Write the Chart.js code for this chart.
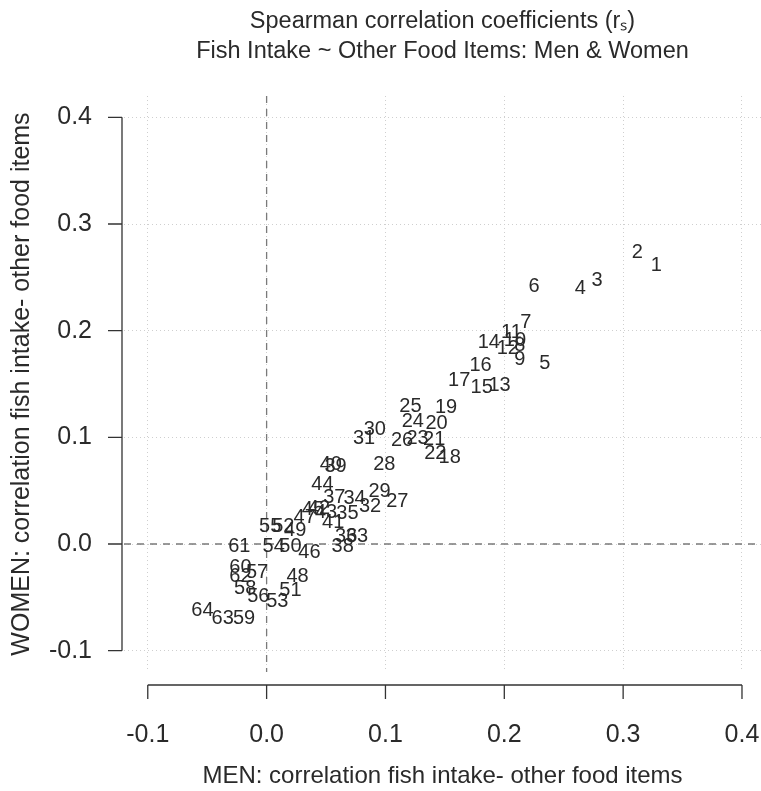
<!DOCTYPE html>
<html>
<head>
<meta charset="utf-8">
<title>Spearman correlation coefficients</title>
<script src="https://cdn.jsdelivr.net/npm/chart.js@4.4.1/dist/chart.umd.min.js"></script>
<style>
  body { margin: 0; background: #fff; }
</style>
</head>
<body>
<canvas id="corrChart" width="761" height="791"></canvas>
<script>
// food item numbers, printed at each point
var itemNo = [1, 2, 3, 4, 5, 6, 7, 8, 9, 10,
  11, 12, 13, 14, 15, 16, 17, 18, 19, 20,
  21, 22, 23, 24, 25, 26, 27, 28, 29, 30,
  31, 32, 33, 34, 35, 36, 37, 38, 39, 40,
  41, 42, 43, 44, 45, 46, 47, 48, 49, 50,
  51, 52, 53, 54, 55, 56, 57, 58, 59, 60,
  61, 62, 63, 64];

// MEN: correlation fish intake - other food items
var menR = [0.328, 0.312, 0.278, 0.264, 0.234, 0.225, 0.218, 0.213, 0.213, 0.209,
  0.206, 0.203, 0.196, 0.187, 0.181, 0.180, 0.162, 0.154, 0.151, 0.143,
  0.141, 0.142, 0.127, 0.123, 0.121, 0.114, 0.110, 0.099, 0.095, 0.091,
  0.082, 0.087, 0.076, 0.074, 0.068, 0.067, 0.057, 0.064, 0.058, 0.054,
  0.056, 0.044, 0.050, 0.047, 0.039, 0.036, 0.032, 0.026, 0.024, 0.020,
  0.020, 0.014, 0.009, 0.006, 0.003, -0.007, -0.008, -0.018, -0.019, -0.022,
  -0.023, -0.022, -0.037, -0.054];

// WOMEN: correlation fish intake - other food items
var womenR = [0.261, 0.273, 0.247, 0.240, 0.169, 0.241, 0.208, 0.186, 0.173, 0.191,
  0.198, 0.183, 0.149, 0.189, 0.147, 0.167, 0.153, 0.081, 0.128, 0.113,
  0.098, 0.085, 0.099, 0.115, 0.129, 0.097, 0.040, 0.075, 0.049, 0.107,
  0.099, 0.035, 0.007, 0.043, 0.029, 0.007, 0.044, -0.002, 0.073, 0.075,
  0.020, 0.033, 0.030, 0.056, 0.032, -0.008, 0.025, -0.030, 0.013, -0.002,
  -0.044, 0.016, -0.054, -0.002, 0.016, -0.049, -0.027, -0.042, -0.070, -0.022,
  -0.002, -0.030, -0.070, -0.062];

var tickVals = [-0.1, 0.0, 0.1, 0.2, 0.3, 0.4];
var tickLabels = ['-0.1', '0.0', '0.1', '0.2', '0.3', '0.4'];

var fontFam = '"Liberation Sans", Arial, sans-serif';
var ink = '#2a2a2a';

function tickText(v) {
    for (var i = 0; i < tickVals.length; i++) {
        if (Math.abs(tickVals[i] - v) < 1e-6) return tickLabels[i];
    }
    return '';
}

var points = menR.map(function(m, i){ return { x: m, y: womenR[i] }; });

//dashed lines through zero
var zeroLines = {
    id: 'zeroLines',
    beforeDatasetsDraw: function(chart){
        var ctx = chart.ctx, a = chart.chartArea;
        var x0 = chart.scales.x.getPixelForValue(0);
        var y0 = chart.scales.y.getPixelForValue(0);
        ctx.save();
        ctx.strokeStyle = '#7a7a7a';
        ctx.lineWidth = 1.3;
        ctx.setLineDash([7, 6]);
        ctx.beginPath();
        ctx.moveTo(a.left, y0); ctx.lineTo(a.right, y0);
        ctx.moveTo(x0, a.top); ctx.lineTo(x0, a.bottom);
        ctx.stroke();
        ctx.restore();
    }
};

//R style detached axes
var rAxes = {
    id: 'rAxes',
    afterDraw: function(chart){
        var ctx = chart.ctx, a = chart.chartArea;
        var xs = chart.scales.x, ys = chart.scales.y;
        var yLine = a.bottom + 13, xLine = a.left - 2, tl = 14;
        var first = tickVals[0], last = tickVals[tickVals.length - 1];
        ctx.save();
        ctx.strokeStyle = '#333';
        ctx.lineWidth = 1.3;
        ctx.beginPath();
        ctx.moveTo(xs.getPixelForValue(first), yLine);
        ctx.lineTo(xs.getPixelForValue(last), yLine);
        ctx.moveTo(xLine, ys.getPixelForValue(first));
        ctx.lineTo(xLine, ys.getPixelForValue(last));
        tickVals.forEach(function(v){
            var px = xs.getPixelForValue(v);
            ctx.moveTo(px, yLine); ctx.lineTo(px, yLine + tl);
            var py = ys.getPixelForValue(v);
            ctx.moveTo(xLine, py); ctx.lineTo(xLine - tl, py);
        });
        ctx.stroke();
        ctx.restore();
    }
};

//item numbers instead of dots
var pointNumbers = {
    id: 'pointNumbers',
    afterDatasetsDraw: function(chart){
        var ctx = chart.ctx;
        var meta = chart.getDatasetMeta(0);
        ctx.save();
        ctx.fillStyle = ink;
        ctx.font = '20px ' + fontFam;
        ctx.textAlign = 'center';
        ctx.textBaseline = 'middle';
        meta.data.forEach(function(pt, i){
            ctx.fillText(String(itemNo[i]), pt.x, pt.y);
        });
        ctx.restore();
    }
};

const ctx = document.getElementById('corrChart');

const corrChart = new Chart(ctx, {
    type: 'scatter',
    data: {
        datasets: [{
            label: 'food items',
            data: points,
            pointRadius: 0,
            pointHoverRadius: 0
        }]
    },
    options: {
        responsive: false,
        animation: false,
        layout: { padding: 0 },
        scales: {
            x: {
                type: 'linear',
                min: -0.12,
                max: 0.416,
                afterFit: function(s){ s.height = 119; },
                border: { display: false, dash: [1, 3] },
                grid: {
                    color: '#cfcfcf',
                    lineWidth: 1,
                    drawTicks: true,
                    tickLength: 48,
                    tickColor: 'rgba(0,0,0,0)'
                },
                ticks: {
                    stepSize: 0.1,
                    includeBounds: false,
                    padding: 0,
                    color: ink,
                    font: { family: fontFam, size: 25 },
                    callback: tickText
                },
                title: {
                    display: true,
                    text: 'MEN: correlation fish intake- other food items',
                    color: ink,
                    font: { family: fontFam, size: 24 },
                    padding: { top: 0, bottom: 0 }
                }
            },
            y: {
                type: 'linear',
                min: -0.12,
                max: 0.42,
                afterFit: function(s){ s.width = 124; },
                border: { display: false, dash: [1, 3] },
                grid: {
                    color: '#cfcfcf',
                    lineWidth: 1,
                    drawTicks: false
                },
                ticks: {
                    stepSize: 0.1,
                    includeBounds: false,
                    padding: 32,
                    color: ink,
                    font: { family: fontFam, size: 25 },
                    callback: tickText
                },
                title: {
                    display: true,
                    text: 'WOMEN: correlation fish intake- other food items',
                    color: ink,
                    font: { family: fontFam, size: 25 },
                    padding: { top: 7, bottom: 0 }
                }
            }
        },
        plugins: {
            legend: { display: false },
            tooltip: { enabled: false },
            title: {
                display: true,
                fullSize: false,
                text: ['Spearman correlation coefficients (r\u209B)', 'Fish Intake ~ Other Food Items: Men & Women'],
                color: ink,
                font: { family: fontFam, size: 23.5, weight: 'normal', lineHeight: 1.277 },
                padding: { top: 7, bottom: 29 }
            }
        }
    },
    plugins: [zeroLines, pointNumbers, rAxes]
});
</script>
</body>
</html>
